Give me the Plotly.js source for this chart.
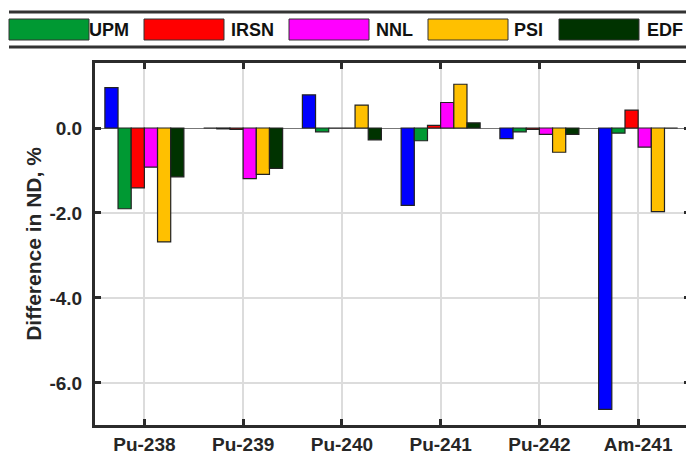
<!DOCTYPE html>
<html>
<head>
<meta charset="utf-8">
<script src="https://cdn.plot.ly/plotly-3.0.1.min.js"></script>
<style>
html,body{margin:0;padding:0;overflow:hidden;background:#fff;width:686px;height:455px;}
#chart{width:700px;height:455px;}
</style>
</head>
<body>
<div id="chart"></div>
<script>
// ---- data ----
var categories = ['Pu-238', 'Pu-239', 'Pu-240', 'Pu-241', 'Pu-242', 'Am-241'];
var seriesNames = ['Ref', 'UPM', 'IRSN', 'NNL', 'PSI', 'EDF'];
var seriesColors = ['#0000ff', '#009933', '#ff0000', '#ff00ff', '#ffc000', '#003300'];
var refValues  = [0.95, 0.00, 0.78, -1.82, -0.25, -6.62];
var upmValues  = [-1.90, -0.02, -0.09, -0.30, -0.09, -0.12];
var irsnValues = [-1.41, -0.03, 0.00, 0.06, -0.03, 0.42];
var nnlValues  = [-0.92, -1.19, 0.00, 0.60, -0.15, -0.45];
var psiValues  = [-2.68, -1.09, 0.54, 1.03, -0.57, -1.97];
var edfValues  = [-1.15, -0.95, -0.28, 0.12, -0.15, 0.00];
var yTickVals  = [0, -2, -4, -6];
var yTickText  = ['0.0', '-2.0', '-4.0', '-6.0'];
var legendShown = ['UPM', 'IRSN', 'NNL', 'PSI', 'EDF'];

var allValues = [refValues, upmValues, irsnValues, nnlValues, psiValues, edfValues];

var FONT = '"Liberation Sans", Arial, sans-serif';

var traces = allValues.map(function (vals, i) {
  return {
    type: 'bar',
    x: categories,
    y: vals,
    name: seriesNames[i],
    marker: {color: seriesColors[i], line: {color: '#222', width: 1.2}},
    showlegend: false,
    hoverinfo: 'x+y+name'
  };
});

// plot geometry (pixels) for paper conversion of the legend
var L = 95, R = 10, T = 63, B = 30, FW = 700, FH = 455;
var PW = FW - L - R, PH = FH - T - B;
function px(x) { return (x - L) / PW; }
function py(y) { return (FH - B - y) / PH; }

var shapes = [];
var annotations = [];
// legend frame lines
shapes.push({type: 'line', xref: 'paper', yref: 'paper', x0: px(9), x1: px(700), y0: py(12), y1: py(12), line: {color: '#333', width: 3}});
shapes.push({type: 'line', xref: 'paper', yref: 'paper', x0: px(9), x1: px(700), y0: py(47), y1: py(47), line: {color: '#333', width: 3}});
var legendRectX = [9, 144, 289, 428, 559];
var legendTextX = [87, 229, 374, 512, 645];
legendShown.forEach(function (nm, k) {
  var idx = seriesNames.indexOf(nm);
  shapes.push({type: 'rect', xref: 'paper', yref: 'paper',
    x0: px(legendRectX[k]), x1: px(legendRectX[k] + 80), y0: py(40), y1: py(19),
    fillcolor: seriesColors[idx], line: {color: '#333', width: 1}});
  annotations.push({xref: 'paper', yref: 'paper', x: px(legendTextX[k]), y: py(30),
    xanchor: 'left', yanchor: 'middle', showarrow: false, text: nm,
    font: {family: FONT, size: 18, color: '#111', weight: 'bold'}});
});

var layout = {
  width: FW, height: FH,
  margin: {l: L, r: R, t: T, b: B, pad: 0},
  paper_bgcolor: '#fff', plot_bgcolor: '#fff',
  barmode: 'group', bargap: 0.2, bargroupgap: 0,
  showlegend: false,
  font: {family: FONT, size: 19, color: '#262626', weight: 'bold'},
  xaxis: {
    type: 'category',
    range: [-0.5, 5.525],
    showgrid: true, gridcolor: '#dcdcdc', gridwidth: 2,
    showline: true, linecolor: '#2b2b2b', linewidth: 3, mirror: 'ticks',
    ticks: 'inside', ticklen: 6, tickwidth: 3, tickcolor: '#2b2b2b',
    tickfont: {family: FONT, size: 19, color: '#262626', weight: 'bold'},
    ticklabelstandoff: 0,
    zeroline: false, fixedrange: true
  },
  yaxis: {
    range: [-6.99, 1.53],
    tickvals: yTickVals, ticktext: yTickText,
    showgrid: true, gridcolor: '#dcdcdc', gridwidth: 2,
    showline: true, linecolor: '#2b2b2b', linewidth: 3, mirror: 'ticks',
    ticks: 'inside', ticklen: 6, tickwidth: 3, tickcolor: '#2b2b2b',
    tickfont: {family: FONT, size: 19, color: '#262626', weight: 'bold'},
    ticklabelstandoff: 6,
    zeroline: true, zerolinecolor: '#777', zerolinewidth: 1,
    title: {text: 'Difference in ND, %', font: {family: FONT, size: 21, color: '#262626', weight: 'bold'}, standoff: 3},
    fixedrange: true
  },
  shapes: shapes,
  annotations: annotations
};

Plotly.newPlot('chart', traces, layout, {displayModeBar: false, staticPlot: true});
</script>
</body>
</html>
